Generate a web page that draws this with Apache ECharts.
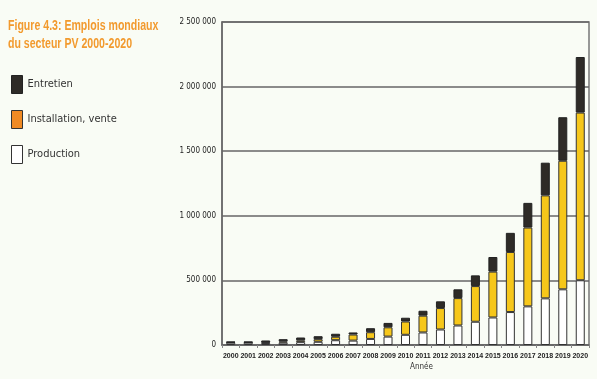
<!DOCTYPE html>
<html><head><meta charset="utf-8">
<script src="https://cdn.jsdelivr.net/npm/echarts@6/dist/echarts.min.js"></script>
<style>html,body{margin:0;padding:0;background:#f9fcf5;}#c{width:597px;height:379px;}</style>
</head><body><div id="c"></div>
<script>
const years = ['2000','2001','2002','2003','2004','2005','2006','2007','2008','2009','2010','2011','2012','2013','2014','2015','2016','2017','2018','2019','2020'];
const production = [18000,18000,15000,18000,22000,25000,37000,34000,47000,65000,79000,97000,120000,151000,180000,213000,255000,299000,361000,431000,501000];
const installation = [3000,3000,5000,10000,14000,20000,27000,47000,52000,72000,103000,130000,166000,212000,276000,355000,465000,610000,797000,995000,1298000];
const entretien = [4000,4000,15000,17000,22000,23000,23000,16000,31000,34000,29000,38000,52000,68000,83000,113000,148000,191000,253000,337000,430000];
const yTicks = ['0','500 000','1 000 000','1 500 000','2 000 000','2 500 000'];
const titleLines = ['Figure 4.3: Emplois mondiaux','du secteur PV 2000-2020'];

const FN = '"DejaVu Sans Condensed",sans-serif';
const FL = '"Liberation Sans",sans-serif';
const chart = echarts.init(document.getElementById('c'));
const barBase = {type:'bar', stack:'t', barWidth:9};
chart.setOption({
  backgroundColor:'#f9fcf5',
  animation:false,
  legend:{orient:'vertical', left:6, top:70, icon:'rect', itemWidth:11, itemHeight:18, itemGap:16,
    textStyle:{fontFamily:FN, fontSize:11, color:'#333'},
    data:[
      {name:'Entretien', itemStyle:{color:'#2e2b27', borderColor:'#222', borderWidth:1}},
      {name:'Installation, vente', itemStyle:{color:'#f08a24', borderColor:'#333', borderWidth:1}},
      {name:'Production', itemStyle:{color:'#ffffff', borderColor:'#333', borderWidth:1}}
    ]},
  grid:{left:222, right:8, top:22, bottom:34, show:true, borderColor:'#777', borderWidth:1.5},
  xAxis:{type:'category', data:years,
    axisLine:{lineStyle:{color:'#666', width:1.5}},
    axisTick:{show:true, length:3, lineStyle:{color:'#888'}},
    axisLabel:{interval:0, fontFamily:FL, fontSize:7, color:'#222', margin:8, fontWeight:'bold'}},
  yAxis:{type:'value', min:0, max:2500000, interval:500000,
    axisLine:{show:true, lineStyle:{color:'#666', width:1.5}},
    axisTick:{show:false},
    splitLine:{lineStyle:{color:'#666', width:1.5}},
    axisLabel:{fontFamily:FN, fontSize:8, color:'#222', margin:6,
      formatter:(v)=>yTicks[Math.round(v/500000)]}},
  graphic:[
    {type:'text', x:410, y:363, style:{text:'Année', font:'8px '+FN, fill:'#333'}},
    {type:'text', x:8, y:18, scaleX:0.705, style:{text:titleLines[0], font:'bold 15px '+FL, fill:'#f29a2e'}},
    {type:'text', x:8, y:36, scaleX:0.705, style:{text:titleLines[1], font:'bold 15px '+FL, fill:'#f29a2e'}}
  ],
  series:[
    Object.assign({}, barBase, {name:'Production', data:production, itemStyle:{color:'#ffffff', borderColor:'#333', borderWidth:1}}),
    Object.assign({}, barBase, {name:'Installation, vente', data:installation, itemStyle:{color:'#f6c71a', borderColor:'#333', borderWidth:1}}),
    Object.assign({}, barBase, {name:'Entretien', data:entretien, itemStyle:{color:'#2e2b27', borderColor:'#222', borderWidth:1}})
  ]
});
</script></body></html>
